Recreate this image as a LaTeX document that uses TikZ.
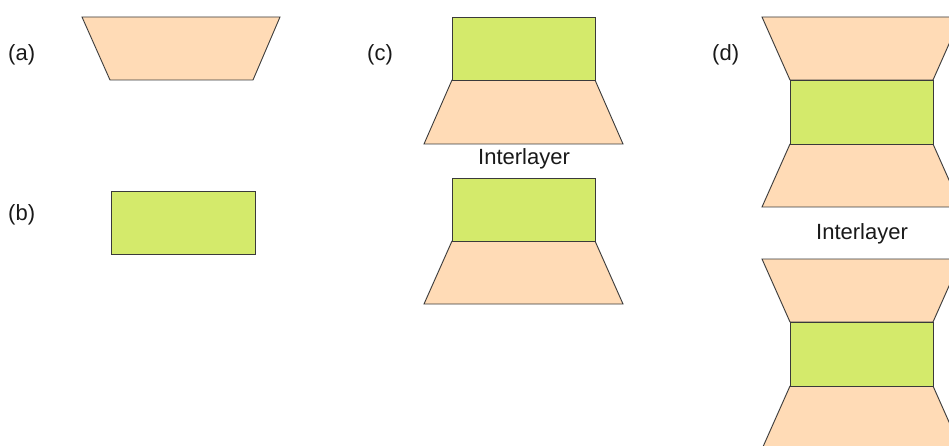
\documentclass[tikz,border=0pt]{standalone}
\usepackage{fontspec}
\setmainfont{Liberation Sans}
\definecolor{peach}{HTML}{FFDBB6}
\definecolor{lime}{HTML}{D4EA6B}
\definecolor{edge}{HTML}{3A3A3A}
\begin{document}
\begin{tikzpicture}[x=1pt,y=-1pt,
  peachshape/.style={fill=peach,draw=edge,line width=0.9pt,line join=miter},
  limeshape/.style={fill=lime,draw=edge,line width=0.9pt},
  lbl/.style={inner sep=0pt,anchor=base west,font=\fontsize{22}{26}\selectfont,text=black!90},
  midlbl/.style={inner sep=0pt,anchor=base,font=\fontsize{22}{26}\selectfont,text=black!90}]
\useasboundingbox (0,0) rectangle (949,446);
\clip (0,0) rectangle (949,446);
\fill[white] (0,0) rectangle (949,446);
% labels
\node[lbl] (la) at (8,61) {(a)};
\node[lbl] (lb) at (8,221) {(b)};
\node[lbl] (lc) at (367,61) {(c)};
\node[lbl] (ld) at (712,61) {(d)};
% (a)
\draw[peachshape] (82,17) -- (280,17) -- (253,80) -- (110,80) -- cycle;
% (b)
\draw[limeshape] (111,191) rectangle (255,254);
% (c) group 1
\draw[peachshape] (452,80) -- (595,80) -- (623,144) -- (424,144) -- cycle;
\draw[limeshape] (452,17) rectangle (595,80);
\node[midlbl] (ic) at (524,165) {Interlayer};
% (c) group 2
\draw[peachshape] (452,241) -- (595,241) -- (623,304) -- (424,304) -- cycle;
\draw[limeshape] (452,178) rectangle (595,241);
% (d) group 1
\draw[peachshape] (762,17) -- (961,17) -- (933,80) -- (790,80) -- cycle;
\draw[peachshape] (790,144) -- (933,144) -- (961,207) -- (762,207) -- cycle;
\draw[limeshape] (790,80) rectangle (933,144);
\node[midlbl] (id) at (862,240) {Interlayer};
% (d) group 2
\draw[peachshape] (762,259) -- (961,259) -- (933,322) -- (790,322) -- cycle;
\draw[peachshape] (790,386) -- (933,386) -- (961,449) -- (762,449) -- cycle;
\draw[limeshape] (790,322) rectangle (933,386);
\end{tikzpicture}
\end{document}
